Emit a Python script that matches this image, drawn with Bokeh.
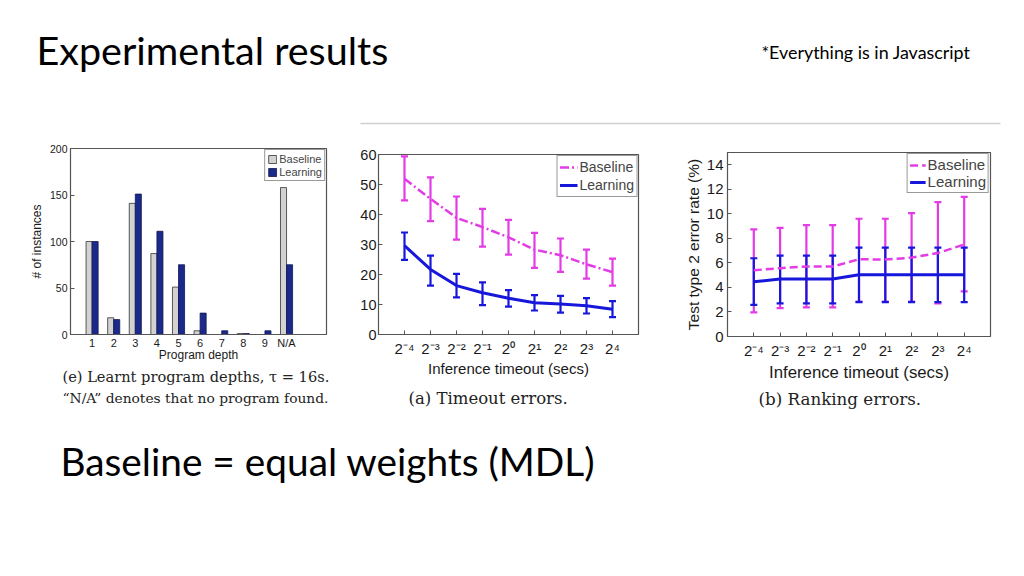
import numpy as np
from bokeh.plotting import figure
from bokeh.models import (ColumnDataSource, Whisker, TeeHead, Label, Range1d,
                          FixedTicker)
from bokeh.layouts import column, row
from bokeh.embed import file_html
from bokeh.resources import INLINE

# ---------------- data ----------------
depth_labels = ["1", "2", "3", "4", "5", "6", "7", "8", "9", "N/A"]
depth_baseline = [100, 18, 141, 87, 51, 4, 0, 1, 0, 158]
depth_learning = [100, 16, 151, 111, 75, 23, 4, 1, 4, 75]

timeouts = [0.0625, 0.125, 0.25, 0.5, 1, 2, 4, 8, 16]
timeout_tick_labels = ["2⁻⁴", "2⁻³", "2⁻²", "2⁻¹", "2⁰", "2¹", "2²", "2³", "2⁴"]

to_base = [51.9, 45.2, 38.9, 35.8, 32.4, 28.3, 26.4, 23.4, 20.8]
to_base_lo = [44.7, 37.8, 31.6, 29.3, 26.6, 22.2, 20.9, 18.6, 16.3]
to_base_hi = [59.4, 52.4, 46.0, 41.9, 38.2, 33.9, 32.0, 28.3, 25.3]
to_learn = [29.6, 21.7, 16.3, 13.9, 12.1, 10.6, 10.2, 9.6, 8.4]
to_learn_lo = [24.9, 16.3, 12.4, 9.8, 9.3, 8.0, 7.3, 7.0, 5.8]
to_learn_hi = [34.0, 26.3, 20.2, 17.4, 14.8, 13.1, 12.9, 12.1, 11.1]

rk_base = [5.4, 5.57, 5.7, 5.7, 6.3, 6.27, 6.43, 6.8, 7.5]
rk_base_lo = [1.97, 2.32, 2.38, 2.38, 2.84, 2.84, 2.84, 2.7, 3.68]
rk_base_hi = [8.73, 8.86, 9.08, 9.08, 9.6, 9.6, 10.05, 10.95, 11.38]
rk_learn = [4.46, 4.68, 4.68, 4.68, 5.03, 5.03, 5.03, 5.03, 5.03]
rk_learn_lo = [2.57, 2.7, 2.7, 2.7, 2.81, 2.81, 2.81, 2.81, 2.81]
rk_learn_hi = [6.38, 6.6, 6.6, 6.6, 7.24, 7.24, 7.24, 7.24, 7.24]

# ---------------- style ----------------
MAG = "#e33be6"
BLUE = "#1717dc"
NAVY = "#1b2a8a"
GRAY = "#d2d2d2"
AX = "#555555"
SANS = "Liberation Sans"
SERIF = "DejaVu Serif"
SLIDE = "Lato"


def base_fig(w, h, l, r, t, b, **kw):
    p = figure(width=w, height=h, output_backend="svg", toolbar_location=None,
               min_border_left=l, min_border_right=r, min_border_top=t,
               min_border_bottom=b, **kw)
    p.grid.visible = False
    p.outline_line_color = AX
    p.outline_line_width = 1.2
    p.background_fill_color = "white"
    p.border_fill_color = "white"
    return p


def style_axis(ax, tick_size, label_size, tick_standoff, label_standoff):
    ax.major_label_text_font = SANS
    ax.axis_label_text_font = SANS
    ax.axis_label_text_font_style = "normal"
    ax.major_label_text_font_size = tick_size
    ax.axis_label_text_font_size = label_size
    ax.major_label_text_color = "#1a1a1a"
    ax.axis_label_text_color = "#1a1a1a"
    ax.major_tick_in = 4
    ax.major_tick_out = 0
    ax.minor_tick_in = 0
    ax.minor_tick_out = 0
    ax.axis_line_color = AX
    ax.major_tick_line_color = AX
    ax.major_label_standoff = tick_standoff
    ax.axis_label_standoff = label_standoff


def style_legend(lg, font_size, glyph_w, glyph_h, label_h):
    lg.location = "top_right"
    lg.margin = 1
    lg.padding = 2
    lg.spacing = 0
    lg.border_line_color = "#333333"
    lg.border_line_width = 1
    lg.background_fill_color = "white"
    lg.background_fill_alpha = 1.0
    lg.label_text_font = SANS
    lg.label_text_font_size = font_size
    lg.label_standoff = 2
    lg.glyph_width = glyph_w
    lg.glyph_height = glyph_h
    lg.label_height = label_h


def text_band(w, h):
    p = figure(width=w, height=h, output_backend="svg", toolbar_location=None,
               x_range=Range1d(0, w), y_range=Range1d(0, h), min_border=0,
               x_axis_location=None, y_axis_location=None)
    p.grid.visible = False
    p.outline_line_color = None
    p.border_fill_color = "white"
    p.background_fill_color = "white"
    return p


def put_text(p, text, x, y, font, size_px, color="black"):
    # y is the wanted baseline (from the bottom); bokeh draws ~0.4em lower
    p.add_layout(Label(x=x, y=y + 0.4 * size_px, x_units="screen",
                       y_units="screen", text=text, text_font=font,
                       text_font_size=f"{size_px}px", text_color=color,
                       text_baseline="alphabetic", text_align="left"))


def caption_band(w, h, lines):
    p = text_band(w, h)
    for text, x, y, size in lines:
        put_text(p, text, x, y, SERIF, size, "#222222")
    p.segment(x0=[0], y0=[0], x1=[0], y1=[0], line_alpha=0)
    return p


# ---------------- chart (e): program depths ----------------
pos = np.arange(1, len(depth_labels) + 1)
src1 = ColumnDataSource(dict(xb=pos - 0.14, xl=pos + 0.14,
                             base=depth_baseline, learn=depth_learning))
p1 = base_fig(345, 234, 70, 19, 18, 30,
              x_range=Range1d(0, 11.85), y_range=Range1d(0, 200))
p1.vbar(x="xb", top="base", width=0.28, source=src1, fill_color=GRAY,
        line_color="#333333", line_width=0.8, legend_label="Baseline")
p1.vbar(x="xl", top="learn", width=0.28, source=src1, fill_color=NAVY,
        line_color="#101850", line_width=0.8, legend_label="Learning")
p1.xaxis.ticker = FixedTicker(ticks=list(pos))
p1.xaxis.major_label_overrides = {int(k): v for k, v in zip(pos, depth_labels)}
p1.yaxis.ticker = FixedTicker(ticks=[0, 50, 100, 150, 200])
p1.xaxis.axis_label = "Program depth"
p1.yaxis.axis_label = "# of instances"
style_axis(p1.xaxis[0], "11px", "12px", 2, -4)
style_axis(p1.yaxis[0], "10.5px", "12px", 3, 3)
p1.xaxis.major_tick_in = 0
style_legend(p1.legend[0], "11px", 10, 10, 13)
cap1 = caption_band(345, 51, [
    ("(e) Learnt program depths, τ = 16s.", 62, 33, 14.6),
    ("“N/A” denotes that no program found.", 62, 12, 13.8),
])

# ---------------- chart (a): timeout errors ----------------
tick_map = {t: lab for t, lab in zip(timeouts, timeout_tick_labels)}

src2b = ColumnDataSource(dict(x=timeouts, y=to_base, lo=to_base_lo, hi=to_base_hi))
src2l = ColumnDataSource(dict(x=timeouts, y=to_learn, lo=to_learn_lo, hi=to_learn_hi))
p2 = base_fig(320, 252, 33, 27, 24, 48, x_axis_type="log",
              x_range=Range1d(2 ** -5, 2 ** 5), y_range=Range1d(0, 60))
p2.line("x", "y", source=src2b, line_color=MAG, line_width=2.5,
        line_dash="9 3 2 3", legend_label="Baseline")
p2.line("x", "y", source=src2l, line_color=BLUE, line_width=3,
        legend_label="Learning")
for s, c in ((src2b, MAG), (src2l, BLUE)):
    p2.add_layout(Whisker(base="x", upper="hi", lower="lo", source=s,
                          line_color=c, line_width=2.2,
                          upper_head=TeeHead(size=7, line_color=c, line_width=2.2),
                          lower_head=TeeHead(size=7, line_color=c, line_width=2.2)))
p2.xaxis.ticker = FixedTicker(ticks=timeouts)
p2.xaxis.major_label_overrides = tick_map
p2.yaxis.ticker = FixedTicker(ticks=[0, 10, 20, 30, 40, 50, 60])
p2.xaxis.axis_label = "Inference timeout (secs)"
style_axis(p2.xaxis[0], "15px", "15px", 5, 0)
style_axis(p2.yaxis[0], "14.5px", "14px", 2, 2)
style_legend(p2.legend[0], "14px", 18, 14, 18)
cap2 = caption_band(320, 33, [("(a) Timeout errors.", 63, 10, 16.5)])

# ---------------- chart (b): ranking errors ----------------
src3b = ColumnDataSource(dict(x=timeouts, y=rk_base, lo=rk_base_lo, hi=rk_base_hi))
src3l = ColumnDataSource(dict(x=timeouts, y=rk_learn, lo=rk_learn_lo, hi=rk_learn_hi))
p3 = base_fig(359, 254, 62, 34, 22, 48, x_axis_type="log",
              x_range=Range1d(2 ** -5, 2 ** 5), y_range=Range1d(0, 15))
p3.line("x", "y", source=src3b, line_color=MAG, line_width=2.5,
        line_dash="8 4", legend_label="Baseline")
p3.line("x", "y", source=src3l, line_color=BLUE, line_width=3,
        legend_label="Learning")
for s, c in ((src3b, MAG), (src3l, BLUE)):
    p3.add_layout(Whisker(base="x", upper="hi", lower="lo", source=s,
                          line_color=c, line_width=2.2,
                          upper_head=TeeHead(size=7, line_color=c, line_width=2.2),
                          lower_head=TeeHead(size=7, line_color=c, line_width=2.2)))
p3.xaxis.ticker = FixedTicker(ticks=timeouts)
p3.xaxis.major_label_overrides = tick_map
p3.yaxis.ticker = FixedTicker(ticks=[0, 2, 4, 6, 8, 10, 12, 14])
p3.xaxis.axis_label = "Inference timeout (secs)"
p3.yaxis.axis_label = "Test type 2 error rate (%)"
style_axis(p3.xaxis[0], "15px", "16.8px", 5, 1)
style_axis(p3.yaxis[0], "15px", "15.5px", 4, 2)
style_legend(p3.legend[0], "15px", 16, 14, 16)
cap3 = caption_band(359, 31, [("(b) Ranking errors.", 93, 10, 16.7)])

# ---------------- slide text ----------------
top = text_band(1024, 130)
put_text(top, "Experimental results", 36, 65, SLIDE, 39.5)
put_text(top, "*Everything is in Javascript", 761, 71, SLIDE, 17.9)
top.segment(x0=[360], y0=[7], x1=[1000], y1=[7], line_color="#d0d0d0",
            line_width=1.5)

bottom = text_band(1024, 161)
put_text(bottom, "Baseline = equal weights (MDL)", 60, 100, SLIDE, 38.8)
bottom.segment(x0=[0], y0=[0], x1=[0], y1=[0], line_alpha=0)

charts = row(column(p1, row(cap1), spacing=0),
             column(p2, row(cap2), spacing=0),
             column(p3, row(cap3), spacing=0), spacing=0)
layout = column(top, charts, bottom, spacing=0)

with open("out.html", "w") as f:
    f.write(file_html(layout, INLINE))
